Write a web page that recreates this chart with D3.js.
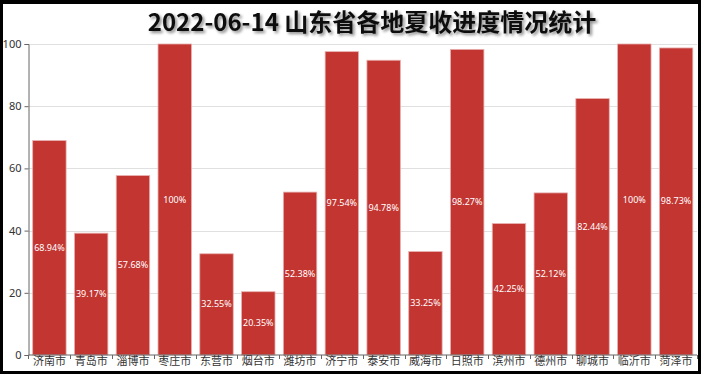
<!DOCTYPE html>
<html><head><meta charset="utf-8">
<script src="https://cdn.jsdelivr.net/npm/d3@7"></script>
<style>
html,body{margin:0;padding:0;background:#000;}
svg{display:block;}
</style></head>
<body>
<svg id="c" width="701" height="374"></svg>
<script>
const title = "2022-06-14 山东省各地夏收进度情况统计";
const cities = ["济南市","青岛市","淄博市","枣庄市","东营市","烟台市","潍坊市","济宁市","泰安市","威海市","日照市","滨州市","德州市","聊城市","临沂市","菏泽市"];
const values = [68.94,39.17,57.68,100,32.55,20.35,52.38,97.54,94.78,33.25,98.27,42.25,52.12,82.44,100,98.73];
const labels = ["68.94%","39.17%","57.68%","100%","32.55%","20.35%","52.38%","97.54%","94.78%","33.25%","98.27%","42.25%","52.12%","82.44%","100%","98.73%"];
const yTicks = [0,20,40,60,80,100];

const svg = d3.select("#c");
svg.append("rect").attr("x",3).attr("y",4).attr("width",695).attr("height",367).attr("fill","#fff");

const m = {l:28.5, r:697, t:44, b:355};
const x = d3.scaleBand().domain(cities).range([m.l, m.r]).paddingInner(0.2).paddingOuter(0.1);
const y = d3.scaleLinear().domain([0,100]).range([m.b, m.t]);

// grid
svg.append("g").selectAll("line").data(yTicks.filter(d=>d>0)).join("line")
  .attr("x1",m.l).attr("x2",m.r).attr("y1",d=>Math.round(y(d))+0.5).attr("y2",d=>Math.round(y(d))+0.5)
  .attr("stroke","#e0e0e0").attr("stroke-width",1);

// title
const defs = svg.append("defs");
const f = defs.append("filter").attr("id","sh").attr("x","-10%").attr("y","-30%").attr("width","120%").attr("height","160%");
f.append("feDropShadow").attr("dx",2).attr("dy",2).attr("stdDeviation",1.5).attr("flood-color","#000").attr("flood-opacity",0.45);
svg.append("text").attr("x",372).attr("y",31).attr("text-anchor","middle")
  .attr("font-family","'Noto Sans CJK SC','Noto Sans',sans-serif").attr("font-weight","bold").attr("font-size",24)
  .attr("fill","#111").attr("filter","url(#sh)").text(title);

// bars
svg.append("g").selectAll("rect").data(values).join("rect")
  .attr("x",(d,i)=>x(cities[i])).attr("width",x.bandwidth())
  .attr("y",d=>y(d)).attr("height",d=>m.b-y(d))
  .attr("fill","#c23531").attr("stroke","#e7b0ae").attr("stroke-width",0.8);

// bar labels
svg.append("g").selectAll("text").data(values).join("text")
  .attr("x",(d,i)=>x(cities[i])+x.bandwidth()/2).attr("y",d=>(y(d)+m.b)/2+3)
  .attr("text-anchor","middle").attr("fill","#fff")
  .attr("font-family","'Noto Sans',sans-serif").attr("font-size",9)
  .text((d,i)=>labels[i]);

// y axis
const ya = svg.append("g").attr("transform",`translate(${m.l},0)`)
  .call(d3.axisLeft(y).tickValues(yTicks).tickSize(4).tickPadding(3));
ya.select(".domain").attr("stroke","#666");
ya.selectAll(".tick line").attr("stroke","#666");
ya.selectAll("text").attr("fill","#333").attr("font-family","'Noto Sans',sans-serif").attr("font-size",11);

// x axis
const xa = svg.append("g").attr("transform",`translate(0,${m.b})`)
  .call(d3.axisBottom(x).tickSize(0).tickPadding(2));
xa.select(".domain").attr("stroke","#666").attr("d",`M${m.l},0H${m.r}`);
xa.selectAll("text").attr("fill","#333").attr("font-family","'Noto Sans CJK SC',sans-serif").attr("font-size",11);
// boundary ticks
const bounds = cities.map(c=>x(c)-x.step()*x.paddingInner()/2).concat([m.r]);
xa.append("g").selectAll("line").data(bounds).join("line")
  .attr("x1",d=>Math.round(d)+0.5).attr("x2",d=>Math.round(d)+0.5).attr("y1",0).attr("y2",4).attr("stroke","#666");
</script>
</body></html>
